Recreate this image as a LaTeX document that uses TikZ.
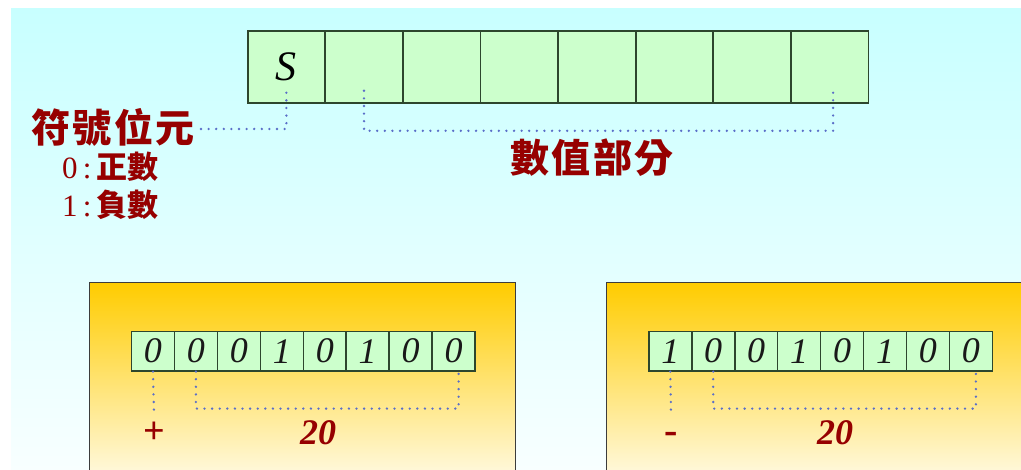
\documentclass[tikz,border=0pt]{standalone}
\usepackage{fontspec}
\setmainfont{Liberation Serif}
\newfontfamily\cjk{Noto Sans CJK TC}
\definecolor{bgtop}{RGB}{200,255,255}
\definecolor{bgbot}{RGB}{248,255,255}
\definecolor{cellfill}{RGB}{204,255,204}
\definecolor{celldraw}{RGB}{45,70,45}
\definecolor{lbl}{RGB}{150,0,0}
\definecolor{dotblue}{RGB}{90,110,200}
\definecolor{goldtop}{RGB}{255,204,0}
\definecolor{goldmid}{RGB}{255,228,100}
\definecolor{goldbot}{RGB}{255,252,238}
\definecolor{panelline}{RGB}{60,60,60}
\begin{document}
\begin{tikzpicture}[x=1pt,y=-1pt,
  topcell/.style={draw=celldraw, fill=cellfill, line width=1.8pt, minimum width=77.6pt,
    minimum height=72pt, inner sep=0pt, anchor=north west,
    font=\fontsize{42}{42}\selectfont\itshape},
  bitcell/.style={draw=celldraw, fill=cellfill, line width=1.6pt, minimum width=42.95pt,
    minimum height=39.3pt, inner sep=0pt, anchor=north west,
    font=\fontsize{36}{36}\selectfont\itshape, text=black!90},
  dotline/.style={draw=dotblue, line width=2.6pt, dash pattern=on 0pt off 7.6pt, line cap=round},
  biglabel/.style={font=\cjk\bfseries\fontsize{39}{39}\selectfont, text=lbl, inner sep=0pt},
  smalllabel/.style={font=\fontsize{31}{32}\selectfont, text=lbl, inner sep=0pt, anchor=west},
  vallabel/.style={font=\bfseries\itshape\fontsize{36}{36}\selectfont, text=lbl, inner sep=0pt},
  signlabel/.style={font=\bfseries\fontsize{38}{38}\selectfont, text=lbl, inner sep=0pt},
  panel/.style={draw=panelline, line width=1.5pt, top color=goldtop, middle color=goldmid, bottom color=goldbot}
]
\useasboundingbox (0,0) rectangle (1021,470);
\clip (0,0) rectangle (1021,470);
% background
\fill[top color=bgtop, bottom color=bgbot] (11,9) rectangle (1030,470);

% top register
\foreach \i in {1,...,8} {
  \node[topcell] (t\i) at ({246.7+(\i-1)*77.6},30) {};
}
\node[font=\fontsize{42}{42}\selectfont\itshape] at (t1.center) {S};

% labels top
\node[biglabel, anchor=east] (sign) at (195,127) {符\hspace{2.5pt}號\hspace{2.5pt}位\hspace{2.5pt}元};
\node[smalllabel] (pos) at (62,167) {0\,:\,{\cjk\bfseries 正數}};
\node[smalllabel] (neg) at (62,205) {1\,:\,{\cjk\bfseries 負數}};
\node[biglabel] (mag) at (592,158) {數\hspace{2.5pt}值\hspace{2.5pt}部\hspace{2.5pt}分};

\draw[dotline] ([xshift=6pt,yshift=-2pt]sign.east) -| ([yshift=13pt]t1.south);
\draw[dotline] ([yshift=13pt]t2.south) -- ([yshift=-27pt]t2.south) -| ([xshift=3.5pt,yshift=13pt]t8.south);

% panels
\path[panel] (89.3,490) -- (89.3,282.7) -- (515.7,282.7) -- (515.7,490);
\path[panel] (606.7,490) -- (606.7,282.7) -- (1040,282.7) -- (1040,490);

% left register
\foreach \b [count=\i] in {0,0,0,1,0,1,0,0} {
  \node[bitcell] (L\i) at ({130.7+(\i-1)*42.95},330.7) {\b};
}
\node[signlabel] (Lplus) at (154,433) {+};
\node[vallabel] (Lval) at (318,433) {20};
\draw[dotline] (L1.south) -- ([yshift=19pt]Lplus.center);
\draw[dotline] (L2.south) -- ([yshift=-37pt]L2.south) -| ([xshift=5pt]L8.south);

% right register
\foreach \b [count=\i] in {1,0,0,1,0,1,0,0} {
  \node[bitcell] (R\i) at ({648+(\i-1)*42.95},330.7) {\b};
}
\node[signlabel, font=\bfseries\fontsize{40}{40}\selectfont] (Rminus) at (671,438) {-};
\node[vallabel] (Rval) at (835,433) {20};
\draw[dotline] (R1.south) -- ([yshift=25pt]Rminus.center);
\draw[dotline] (R2.south) -- ([yshift=-37pt]R2.south) -| ([xshift=5pt]R8.south);
\end{tikzpicture}
\end{document}
